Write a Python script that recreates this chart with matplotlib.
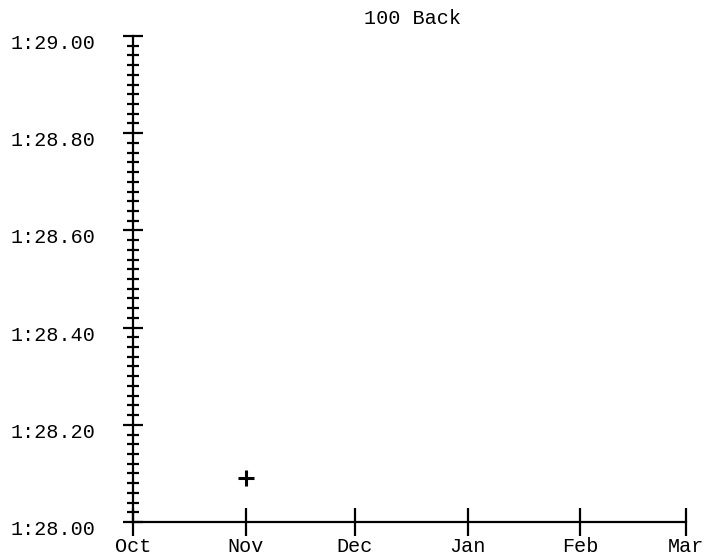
import datetime as dt
import matplotlib
matplotlib.use("Agg")
import matplotlib.pyplot as plt
import matplotlib.dates as mdates
import matplotlib.ticker as mticker
from matplotlib.transforms import ScaledTranslation

# data
title = "100 Back"
swim_dates = [dt.date(2023, 11, 1)]
swim_times = [88.09]  # seconds -> 1:28.09
x_start = dt.date(2023, 10, 1)
x_end = dt.date(2024, 3, 1)
y_min, y_max = 88.0, 89.0

plt.rcParams['font.family'] = ['Liberation Mono', 'DejaVu Sans Mono']

fig = plt.figure(figsize=(7.06, 5.58), dpi=100)
ax = fig.add_axes([133/706, 36/558, 553/706, 486/558])

ax.plot(swim_dates, swim_times, linestyle='none', marker='+', color='black',
        markersize=11, markeredgewidth=2.2, clip_on=False)

ax.set_xlim(x_start, x_end)
ax.set_ylim(y_min, y_max)

def fmt_time(v, pos):
    m = int(v // 60)
    s = v - m * 60
    return "%d:%05.2f" % (m, s)

ax.yaxis.set_major_locator(mticker.MultipleLocator(0.2))
ax.yaxis.set_minor_locator(mticker.MultipleLocator(0.02))
ax.yaxis.set_major_formatter(mticker.FuncFormatter(fmt_time))
ax.xaxis.set_major_locator(mdates.MonthLocator())
ax.xaxis.set_major_formatter(mdates.DateFormatter('%b'))

for side in ['top', 'right']:
    ax.spines[side].set_visible(False)
for side in ['left', 'bottom']:
    ax.spines[side].set_linewidth(1.6)
    ax.spines[side].set_clip_on(False)

ax.tick_params(axis='y', which='major', direction='inout', length=14, width=1.6,
               labelsize=14.5, pad=20)
ax.tick_params(axis='y', which='minor', direction='inout', length=8.5, width=1.6)
ax.tick_params(axis='x', which='major', direction='inout', length=20, width=1.6,
               labelsize=14.5, pad=1)

# labels sit a little below their ticks in the reference
shift = ScaledTranslation(0, -4/72, fig.dpi_scale_trans)
for lab in ax.get_yticklabels():
    lab.set_transform(lab.get_transform() + shift)

ax.set_title(title, fontsize=14.5, x=0.506, pad=9)

fig.savefig("out.png", dpi=100)
